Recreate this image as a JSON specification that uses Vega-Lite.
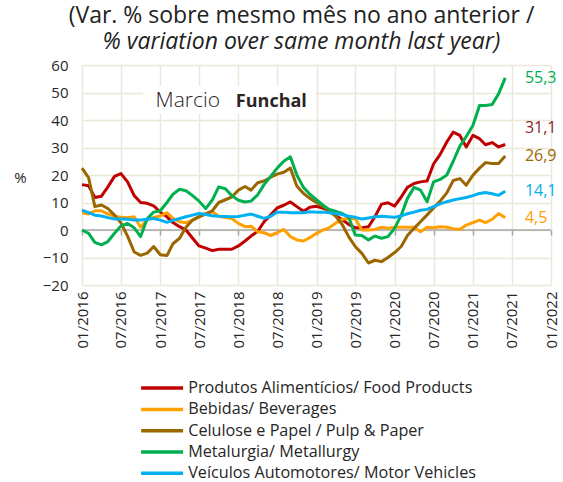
{
  "$schema": "https://vega.github.io/schema/vega-lite/v6.json",
  "width": 469,
  "height": 220,
  "autosize": "none",
  "padding": {"left": 82, "top": 65, "right": 12, "bottom": 197},
  "title": {
    "text": "(Var. % sobre mesmo mês no ano anterior /",
    "subtitle": "% variation over same month last year)",
    "font": "Open Sans",
    "subtitleFont": "Open Sans",
    "fontSize": 23,
    "subtitleFontSize": 23,
    "fontWeight": "normal",
    "subtitleFontStyle": "italic",
    "color": "#222222",
    "subtitleColor": "#222222",
    "anchor": "middle",
    "frame": "group",
    "dx": -15,
    "offset": 4,
    "subtitlePadding": 3
  },
  "config": {
    "font": "Open Sans",
    "view": {"stroke": null},
    "axis": {
      "gridColor": "#EAE8D8",
      "gridWidth": 1.5,
      "labelFont": "Open Sans",
      "labelFontSize": 15,
      "labelColor": "#262626",
      "titleFont": "Open Sans",
      "titleColor": "#262626"
    },
    "legend": {"labelFont": "Open Sans"}
  },
  "datasets": {
    "e": [
      {"k": "g", "v": 55.3, "t": "55,3"},
      {"k": "r", "v": 31.1, "t": "31,1"},
      {"k": "b", "v": 26.9, "t": "26,9"},
      {"k": "c", "v": 14.1, "t": "14,1"},
      {"k": "o", "v": 4.5, "t": "4,5"}
    ]
  },
  "layer": [
    {
      "data": {"values": [{}]},
      "mark": {"type": "rect", "color": "white"},
      "encoding": {
        "x": {"datum": {"year": 2016, "month": 10, "date": 12}, "type": "temporal", "axis": null},
        "x2": {"datum": {"year": 2018, "month": 12, "date": 28}},
        "y": {"datum": 52.5, "type": "quantitative", "axis": null},
        "y2": {"datum": 42.4}
      }
    },
    {
      "data": {"values": [{}]},
      "mark": {"type": "rule", "color": "#A6A6A6", "strokeWidth": 1.5},
      "encoding": {"y": {"datum": 0, "type": "quantitative", "axis": null}}
    },
    {
      "data": {
        "values": [
          {"d": "2016-01", "r": 16.5, "o": 6.3, "b": 22.5, "g": 0, "c": 7.2},
          {"d": "2016-02", "r": 16.1, "o": 5.8, "b": 19, "g": -1.2, "c": 6.3},
          {"d": "2016-03", "r": 11.8, "o": 7, "b": 8.5, "g": -4.5, "c": 5.4},
          {"d": "2016-04", "r": 12.3, "o": 7, "b": 9.1, "g": -5.4, "c": 5.1},
          {"d": "2016-05", "r": 15.7, "o": 5.8, "b": 7.8, "g": -4.2, "c": 4.5},
          {"d": "2016-06", "r": 19.5, "o": 5.1, "b": 5.4, "g": -1.2, "c": 4},
          {"d": "2016-07", "r": 20.5, "o": 4.6, "b": 2.6, "g": 1.5, "c": 4},
          {"d": "2016-08", "r": 17.5, "o": 4.5, "b": -2.2, "g": 2.4, "c": 3.9},
          {"d": "2016-09", "r": 12.5, "o": 4.8, "b": -8, "g": 0.8, "c": 3.6},
          {"d": "2016-10", "r": 10, "o": 1, "b": -9.2, "g": -2.4, "c": 3.6},
          {"d": "2016-11", "r": 9.7, "o": 3.9, "b": -8.4, "g": 4.2, "c": 3.9},
          {"d": "2016-12", "r": 8.8, "o": 4.6, "b": -6, "g": 6.5, "c": 4.2},
          {"d": "2017-01", "r": 6.5, "o": 5.1, "b": -9, "g": 7, "c": 3.6},
          {"d": "2017-02", "r": 4.8, "o": 6.3, "b": -9.3, "g": 10, "c": 2.8},
          {"d": "2017-03", "r": 2.7, "o": 4.2, "b": -5, "g": 13, "c": 3.5},
          {"d": "2017-04", "r": 1.2, "o": 3, "b": -3, "g": 14.8, "c": 4.2},
          {"d": "2017-05", "r": 0, "o": 2.6, "b": 1, "g": 14.3, "c": 4.8},
          {"d": "2017-06", "r": -3, "o": 3.6, "b": 3.6, "g": 12.5, "c": 5.4},
          {"d": "2017-07", "r": -5.8, "o": 5, "b": 4.8, "g": 10.5, "c": 6},
          {"d": "2017-08", "r": -6.6, "o": 6, "b": 5.8, "g": 7.8, "c": 5.6},
          {"d": "2017-09", "r": -7.5, "o": 6.6, "b": 7, "g": 10.9, "c": 5.2},
          {"d": "2017-10", "r": -7, "o": 5, "b": 10, "g": 15.7, "c": 5},
          {"d": "2017-11", "r": -7, "o": 4.5, "b": 11, "g": 15, "c": 4.9},
          {"d": "2017-12", "r": -7, "o": 4.2, "b": 12, "g": 12.5, "c": 4.8},
          {"d": "2018-01", "r": -5.8, "o": 2.4, "b": 14.5, "g": 10.8, "c": 4.9},
          {"d": "2018-02", "r": -4, "o": 1.2, "b": 15.8, "g": 10.2, "c": 5.4},
          {"d": "2018-03", "r": -2.2, "o": 1.4, "b": 14.5, "g": 10.5, "c": 5.8},
          {"d": "2018-04", "r": -0.5, "o": -0.6, "b": 17.2, "g": 12.8, "c": 5},
          {"d": "2018-05", "r": 3, "o": -1, "b": 17.8, "g": 16.5, "c": 4.2},
          {"d": "2018-06", "r": 5.5, "o": -2, "b": 19.2, "g": 19.5, "c": 5},
          {"d": "2018-07", "r": 8, "o": -1, "b": 20.3, "g": 22.5, "c": 6.5},
          {"d": "2018-08", "r": 9, "o": 0.2, "b": 21, "g": 25, "c": 6.5},
          {"d": "2018-09", "r": 10.2, "o": -2.4, "b": 22.5, "g": 26.6, "c": 6.3},
          {"d": "2018-10", "r": 8.5, "o": -3.6, "b": 16, "g": 20, "c": 6.3},
          {"d": "2018-11", "r": 6.8, "o": -4, "b": 13.3, "g": 15.5, "c": 6.3},
          {"d": "2018-12", "r": 8.3, "o": -2.8, "b": 11.5, "g": 13, "c": 6.6},
          {"d": "2019-01", "r": 8.6, "o": -1.2, "b": 10, "g": 11, "c": 6.5},
          {"d": "2019-02", "r": 7.9, "o": 0, "b": 8.5, "g": 9, "c": 6.5},
          {"d": "2019-03", "r": 7.2, "o": 0.8, "b": 7, "g": 7.5, "c": 6.3},
          {"d": "2019-04", "r": 5.2, "o": 2.5, "b": 5, "g": 6.8, "c": 6},
          {"d": "2019-05", "r": 3.8, "o": 3.9, "b": 2, "g": 6, "c": 5.6},
          {"d": "2019-06", "r": 2, "o": 4.2, "b": -2.5, "g": 4.6, "c": 5},
          {"d": "2019-07", "r": 0.8, "o": 4.2, "b": -6, "g": -1.8, "c": 4.6},
          {"d": "2019-08", "r": 0.8, "o": 0, "b": -8.5, "g": -2, "c": 4},
          {"d": "2019-09", "r": 1.2, "o": 0, "b": -12, "g": -3.6, "c": 4.4},
          {"d": "2019-10", "r": 4.8, "o": 0.2, "b": -11, "g": -2.2, "c": 4.8},
          {"d": "2019-11", "r": 9.4, "o": 1, "b": -11.5, "g": -3, "c": 5},
          {"d": "2019-12", "r": 9.9, "o": 0.6, "b": -10, "g": -2.4, "c": 4.8},
          {"d": "2020-01", "r": 8.7, "o": 1, "b": -8.2, "g": 0.6, "c": 4.6},
          {"d": "2020-02", "r": 12, "o": 1, "b": -6, "g": 5.4, "c": 5.2},
          {"d": "2020-03", "r": 15.5, "o": 1, "b": -2, "g": 11.5, "c": 5.9},
          {"d": "2020-04", "r": 16.9, "o": 1, "b": 0.6, "g": 15.5, "c": 6.5},
          {"d": "2020-05", "r": 17.5, "o": -0.6, "b": 3, "g": 14.5, "c": 7.2},
          {"d": "2020-06", "r": 17.8, "o": 1, "b": 5.5, "g": 10.3, "c": 7.5},
          {"d": "2020-07", "r": 24, "o": 0.8, "b": 8, "g": 17.5, "c": 8.5},
          {"d": "2020-08", "r": 27.5, "o": 1.2, "b": 10.5, "g": 18.4, "c": 9.5},
          {"d": "2020-09", "r": 32, "o": 1, "b": 13.5, "g": 20, "c": 10.3},
          {"d": "2020-10", "r": 35.6, "o": 0.5, "b": 18, "g": 25, "c": 10.9},
          {"d": "2020-11", "r": 34.4, "o": 0.2, "b": 18.7, "g": 30.5, "c": 11.4},
          {"d": "2020-12", "r": 30.2, "o": 1.8, "b": 16.3, "g": 34, "c": 11.8},
          {"d": "2021-01", "r": 34.4, "o": 2.7, "b": 19.9, "g": 38, "c": 12.5},
          {"d": "2021-02", "r": 33.2, "o": 3.6, "b": 22.5, "g": 45.3, "c": 13.3},
          {"d": "2021-03", "r": 31, "o": 2.7, "b": 24.5, "g": 45.3, "c": 13.6},
          {"d": "2021-04", "r": 31.8, "o": 3.9, "b": 24.2, "g": 45.6, "c": 13.2},
          {"d": "2021-05", "r": 30.2, "o": 6, "b": 24.2, "g": 49.5, "c": 12.6},
          {"d": "2021-06", "r": 31.1, "o": 4.5, "b": 26.9, "g": 55.3, "c": 14.1}
        ],
        "format": {"parse": {"d": "date:'%Y-%m'"}}
      },
      "transform": [{"fold": ["r", "o", "b", "g", "c"], "as": ["k", "v"]}],
      "mark": {"type": "line", "strokeWidth": 3, "strokeJoin": "round"},
      "encoding": {
        "x": {
          "field": "d",
          "type": "temporal",
          "scale": {"domain": [{"year": 2016, "month": 1, "date": 1}, {"year": 2022, "month": 1, "date": 1}], "nice": false},
          "axis": {
            "title": null,
            "format": "%m/%Y",
            "tickCount": {"interval": "month", "step": 6},
            "labelAngle": -90,
            "labelAlign": "right",
            "labelBaseline": "middle",
            "labelPadding": 6,
            "labelFlush": false,
            "labelOverlap": false,
            "labelBound": false,
            "ticks": false,
            "domain": false,
            "grid": true
          }
        },
        "y": {
          "field": "v",
          "type": "quantitative",
          "scale": {"domain": [-20, 60], "nice": false},
          "axis": {
            "title": "%",
            "titleAngle": 0,
            "titleX": -62,
            "titleY": 112,
            "titleAlign": "center",
            "titleBaseline": "middle",
            "titleFontSize": 15,
            "titleFontWeight": "normal",
            "values": [-20, -10, 0, 10, 20, 30, 40, 50, 60],
            "labelOverlap": false,
            "ticks": false,
            "domain": false,
            "labelPadding": 14,
            "grid": true
          }
        },
        "color": {
          "field": "k",
          "type": "nominal",
          "sort": null,
          "scale": {"domain": ["r", "o", "b", "g", "c"], "range": ["#C00000", "#FFA000", "#996600", "#00B050", "#00B0F0"]},
          "legend": {
            "title": null,
            "orient": "none",
            "legendX": 72,
            "legendY": 315,
            "symbolType": "M-4,0H4",
            "symbolSize": 110,
            "symbolStrokeWidth": 3.5,
            "labelFontSize": 16.2,
            "labelColor": "#262626",
            "labelOffset": 18,
            "rowPadding": 4.3,
            "labelLimit": 400,
            "labelExpr": "{'r': 'Produtos Alimentícios/ Food Products', 'o': 'Bebidas/ Beverages', 'b': 'Celulose e Papel / Pulp & Paper', 'g': 'Metalurgia/ Metallurgy', 'c': 'Veículos Automotores/ Motor Vehicles'}[datum.value]"
          }
        }
      }
    },
    {
      "data": {"name": "e"},
      "transform": [{"filter": "datum.k != 'r'"}],
      "mark": {"type": "text", "align": "left", "baseline": "middle", "fontSize": 16, "font": "Open Sans"},
      "encoding": {
        "x": {
          "datum": {"year": 2021, "month": 9, "date": 1},
          "type": "temporal",
          "axis": {
            "orient": "bottom",
            "offset": -55,
            "title": null,
            "labels": false,
            "grid": false,
            "domain": false,
            "ticks": true,
            "tickColor": "#A6A6A6",
            "tickWidth": 1.5,
            "tickSize": 5,
            "tickCount": {"interval": "month", "step": 6}
          }
        },
        "y": {"field": "v", "type": "quantitative", "axis": null},
        "text": {"field": "t"},
        "color": {
          "field": "k",
          "type": "nominal",
          "scale": {"domain": ["r", "o", "b", "g", "c"], "range": ["#8C1C2C", "#FFA000", "#996600", "#00B050", "#00B0F0"]},
          "legend": null
        }
      }
    },
    {
      "data": {"name": "e"},
      "transform": [{"filter": "datum.k == 'r'"}],
      "mark": {"type": "text", "align": "left", "baseline": "middle", "fontSize": 16, "font": "Open Sans", "dy": -16},
      "encoding": {
        "x": {"datum": {"year": 2021, "month": 9, "date": 1}, "type": "temporal", "axis": null},
        "y": {"field": "v", "type": "quantitative", "axis": null},
        "text": {"field": "t"},
        "color": {
          "field": "k",
          "type": "nominal",
          "scale": {"domain": ["r", "o", "b", "g", "c"], "range": ["#8C1C2C", "#FFA000", "#996600", "#00B050", "#00B0F0"]},
          "legend": null
        }
      }
    },
    {
      "data": {"values": [{}]},
      "mark": {"type": "text", "text": "Marcio", "font": "Open Sans", "fontWeight": 300, "fontSize": 21, "align": "left", "baseline": "alphabetic", "color": "#2B2523"},
      "encoding": {
        "x": {"datum": {"year": 2016, "month": 12, "date": 10}, "type": "temporal", "axis": null},
        "y": {"datum": 44.6, "type": "quantitative", "axis": null}
      }
    },
    {
      "data": {"values": [{}]},
      "mark": {"type": "text", "text": "Funchal", "font": "Open Sans", "fontWeight": "bold", "fontSize": 18, "align": "left", "baseline": "alphabetic", "color": "#2B2523"},
      "encoding": {
        "x": {"datum": {"year": 2017, "month": 12, "date": 20}, "type": "temporal", "axis": null},
        "y": {"datum": 44.6, "type": "quantitative", "axis": null}
      }
    }
  ],
  "resolve": {"axis": {"x": "independent", "y": "independent"}, "scale": {"color": "independent"}}
}
